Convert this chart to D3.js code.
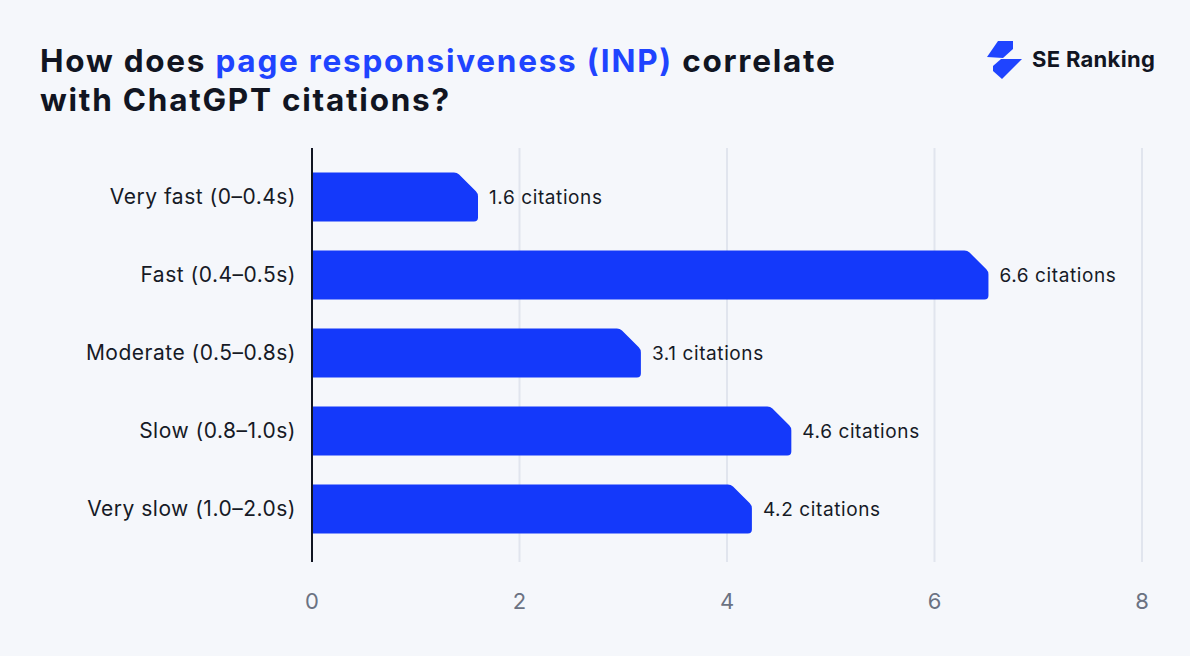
<!DOCTYPE html>
<html><head><meta charset="utf-8">
<script src="https://cdn.jsdelivr.net/npm/d3@7"></script>
<style>
html,body{margin:0;padding:0;background:#f5f7fb;}
svg{display:block;font-family:Inter, "Noto Sans", sans-serif;}
</style></head>
<body>
<svg id="c" width="1190" height="656"></svg>
<script>
const categories = ["Very fast (0–0.4s)","Fast (0.4–0.5s)","Moderate (0.5–0.8s)","Slow (0.8–1.0s)","Very slow (1.0–2.0s)"];
const values = [1.6, 6.52, 3.17, 4.62, 4.24];
const valueLabels = ["1.6 citations","6.6 citations","3.1 citations","4.6 citations","4.2 citations"];
const xTicks = [0,2,4,6,8];

const svg = d3.select("#c");
svg.append("rect").attr("width",1190).attr("height",656).attr("fill","#f5f7fb");

// Title
const t = svg.append("text").attr("x",40).attr("y",72).attr("font-size",31.5).attr("font-weight",700).attr("fill","#111522").attr("letter-spacing","1.75");
t.append("tspan").text("How does ");
t.append("tspan").attr("fill","#1f44ff").text("page responsiveness (INP)");
t.append("tspan").text(" correlate");
svg.append("text").attr("x",40).attr("y",111).attr("font-size",31.5).attr("font-weight",700).attr("fill","#111522").attr("letter-spacing","1.75").text("with ChatGPT citations?");

// Logo
const logo = svg.append("g");
logo.append("path").attr("d","M987,57 L998,41 L1013,41 L1013,49 L1003,58 Z").attr("fill","#1f44ff");
logo.append("path").attr("d","M1001,59 L1022,59 L1002,79 L993,71 L993,66 Z").attr("fill","#1f44ff");
logo.append("text").attr("x",1032).attr("y",67).attr("font-size",22).attr("font-weight",700).attr("fill","#111522").attr("letter-spacing","0.3").text("SE Ranking");

const x = d3.scaleLinear().domain([0,8]).range([312,1142]);
const y = d3.scaleBand().domain(categories).range([158,548]).paddingInner(0.37).paddingOuter(0.185);

// grid
svg.append("g").selectAll("line").data(xTicks.slice(1)).join("line")
  .attr("x1",d=>x(d)).attr("x2",d=>x(d)).attr("y1",148).attr("y2",562)
  .attr("stroke","#e1e5ee").attr("stroke-width",2);

// bars
const bh = y.bandwidth();
const ch = 21, r = 4, rc = 3;
svg.append("g").selectAll("path").data(categories).join("path")
  .attr("d",(c,i)=>{
    const x0 = x(0), x1 = x(values[i]), y0 = y(c), y1 = y0+bh;
    return `M${x0},${y0} L${x1-ch-rc},${y0} Q${x1-ch},${y0} ${x1-ch+rc*0.7},${y0+rc*0.7} L${x1-rc*0.7},${y0+ch-rc*0.7} Q${x1},${y0+ch} ${x1},${y0+ch+rc} L${x1},${y1-r} Q${x1},${y1} ${x1-r},${y1} L${x0},${y1} Z`;
  })
  .attr("fill","#1439fa");

// value labels
svg.append("g").selectAll("text").data(categories).join("text")
  .attr("x",(c,i)=>x(values[i])+11).attr("y",c=>y(c)+bh/2).attr("dy","0.35em")
  .attr("font-size",19).attr("letter-spacing","0.6").attr("fill","#161a26").text((c,i)=>valueLabels[i]);

// category labels
svg.append("g").selectAll("text").data(categories).join("text")
  .attr("x",296).attr("y",c=>y(c)+bh/2).attr("dy","0.35em").attr("text-anchor","end")
  .attr("font-size",21).attr("letter-spacing","0.5").attr("fill","#161a26").text(c=>c);

// axis line
svg.append("line").attr("x1",x(0)).attr("x2",x(0)).attr("y1",148).attr("y2",562).attr("stroke","#111522").attr("stroke-width",2);

// tick labels
svg.append("g").selectAll("text").data(xTicks).join("text")
  .attr("x",d=>x(d)).attr("y",609).attr("text-anchor","middle")
  .attr("font-size",22).attr("fill","#6b7282").text(d=>d);
</script>
</body></html>
